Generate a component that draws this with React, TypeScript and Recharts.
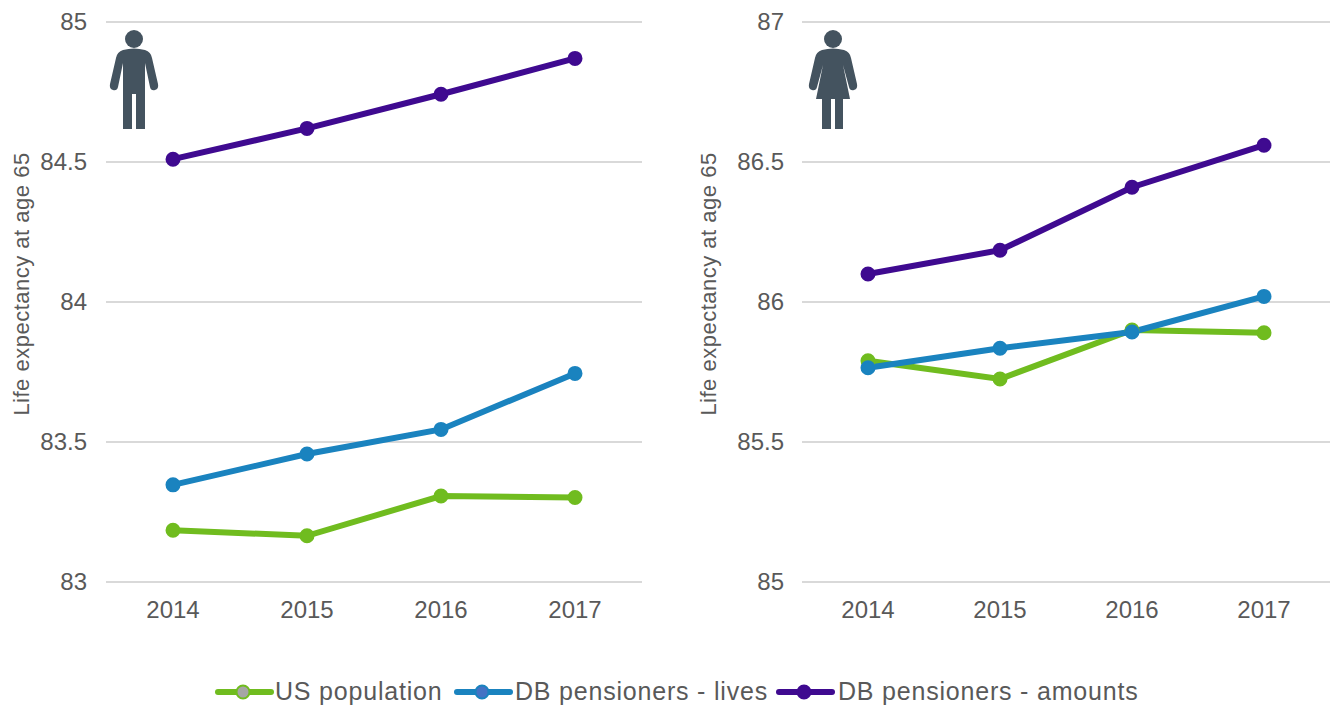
import { CartesianGrid, Line, LineChart, XAxis, YAxis } from "recharts";

const years = ["2014", "2015", "2016", "2017"];

const menPopulation = [83.185, 83.165, 83.307, 83.302];
const menLives = [83.347, 83.457, 83.545, 83.745];
const menAmounts = [84.51, 84.62, 84.742, 84.87];

const womenPopulation = [85.79, 85.725, 85.9, 85.89];
const womenLives = [85.765, 85.835, 85.893, 86.02];
const womenAmounts = [86.1, 86.185, 86.41, 86.56];

const menTicks = [83, 83.5, 84, 84.5, 85];
const womenTicks = [85, 85.5, 86, 86.5, 87];

const GREEN = "#70bc1f";
const BLUE = "#1a83bf";
const PURPLE = "#3f0a90";
const FONT = "'Liberation Sans', Arial, sans-serif";
const TEXT = "#595959";

const legendItems = [
  { name: "US population", color: GREEN, dot: "#a5a5a5", left: 214, textLeft: 275 },
  { name: "DB pensioners - lives", color: BLUE, dot: "#4472c4", left: 453, textLeft: 515 },
  { name: "DB pensioners - amounts", color: PURPLE, dot: PURPLE, left: 775, textLeft: 838 },
];

function makeRows(pop: number[], lives: number[], amounts: number[]) {
  return years.map((year, i) => ({ year, pop: pop[i], lives: lives[i], amounts: amounts[i] }));
}

interface PanelProps {
  left: number;
  width: number;
  axisWidth: number;
  pad: number;
  labelGap: number;
  rows: ReturnType<typeof makeRows>;
  ticks: number[];
}

function Panel({ left, width, axisWidth, pad, labelGap, rows, ticks }: PanelProps) {
  const series = [
    { key: "pop", color: GREEN },
    { key: "lives", color: BLUE },
    { key: "amounts", color: PURPLE },
  ];
  return (
    <div style={{ position: "absolute", left, top: 0 }}>
      <LineChart width={width} height={640} data={rows} margin={{ top: 22, right: 0, bottom: 0, left: 0 }}>
        <CartesianGrid horizontal vertical={false} stroke="#d9d9d9" strokeWidth={2} />
        <XAxis
          dataKey="year"
          height={58}
          padding={{ left: pad, right: pad }}
          stroke="#d9d9d9"
          strokeWidth={2}
          tickLine={false}
          tickMargin={13}
          tick={{ fill: TEXT, fontSize: 24, fontFamily: FONT }}
        />
        <YAxis
          width={axisWidth}
          domain={[ticks[0], ticks[ticks.length - 1]]}
          ticks={ticks}
          axisLine={false}
          tickLine={false}
          tickSize={0}
          tickMargin={labelGap}
          tick={{ fill: TEXT, fontSize: 24, fontFamily: FONT, dy: -1 }}
        />
        {series.map((s) => (
          <Line
            key={s.key}
            dataKey={s.key}
            type="linear"
            stroke={s.color}
            strokeWidth={6}
            dot={{ r: 6.5, fill: s.color, stroke: s.color, strokeWidth: 2 }}
            isAnimationActive={false}
          />
        ))}
      </LineChart>
    </div>
  );
}

function AxisTitle({ x }: { x: number }) {
  return (
    <div
      style={{
        position: "absolute",
        left: x,
        top: 284,
        transform: "translate(-50%, -50%) rotate(-90deg)",
        whiteSpace: "nowrap",
        color: TEXT,
        fontFamily: FONT,
        fontSize: 22,
        letterSpacing: 0.5,
      }}
    >
      Life expectancy at age 65
    </div>
  );
}

function ManIcon({ left }: { left: number }) {
  return (
    <svg style={{ position: "absolute", left, top: 30 }} width={50} height={100} viewBox="0 0 50 100">
      <circle cx={25} cy={9} r={9} fill="#44535f" />
      <path
        d="M14 20 Q25 17 36 20 Q42 22 43 28 L49 54 Q50 59 46 60 Q42 61 41 57 L36 33 L36 99 L27 99 L27 64 L23 64 L23 99 L14 99 L14 33 L9 57 Q8 61 4 60 Q0 59 1 54 L7 28 Q8 22 14 20 Z"
        fill="#44535f"
      />
    </svg>
  );
}

function WomanIcon({ left }: { left: number }) {
  return (
    <svg style={{ position: "absolute", left, top: 30 }} width={50} height={100} viewBox="0 0 50 100">
      <circle cx={25} cy={9} r={9} fill="#44535f" />
      <path
        d="M14 20 Q25 17 36 20 Q42 22 43 28 L49 54 Q50 59 46 60 Q42 61 41 57 L35 35 L42 69 L35 69 L35 99 L27 99 L27 69 L23 69 L23 99 L14 99 L14 69 L8 69 L15 35 L9 57 Q8 61 4 60 Q0 59 1 54 L7 28 Q8 22 14 20 Z"
        fill="#44535f"
      />
    </svg>
  );
}

function BottomLegend() {
  return (
    <>
      {legendItems.map((item) => (
        <div key={item.name}>
          <svg style={{ position: "absolute", left: item.left, top: 682 }} width={60} height={20}>
            <line x1={4} y1={10} x2={57} y2={10} stroke={item.color} strokeWidth={6} strokeLinecap="round" />
            <circle cx={29} cy={10} r={6.5} fill={item.dot} stroke={item.color} strokeWidth={2} />
          </svg>
          <div
            style={{
              position: "absolute",
              left: item.textLeft,
              top: 677,
              color: TEXT,
              fontFamily: FONT,
              fontSize: 25,
              letterSpacing: 0.8,
              whiteSpace: "nowrap",
            }}
          >
            {item.name}
          </div>
        </div>
      ))}
    </>
  );
}

export default function App() {
  return (
    <div style={{ position: "absolute", left: 0, top: 0, width: 1336, height: 709, background: "#fff", overflow: "hidden" }}>
      <Panel left={0} width={642} axisWidth={106} pad={67} labelGap={19} rows={makeRows(menPopulation, menLives, menAmounts)} ticks={menTicks} />
      <Panel left={696} width={634} axisWidth={106} pad={66} labelGap={18} rows={makeRows(womenPopulation, womenLives, womenAmounts)} ticks={womenTicks} />
      <AxisTitle x={22} />
      <AxisTitle x={709} />
      <ManIcon left={109} />
      <WomanIcon left={808} />
      <BottomLegend />
    </div>
  );
}
